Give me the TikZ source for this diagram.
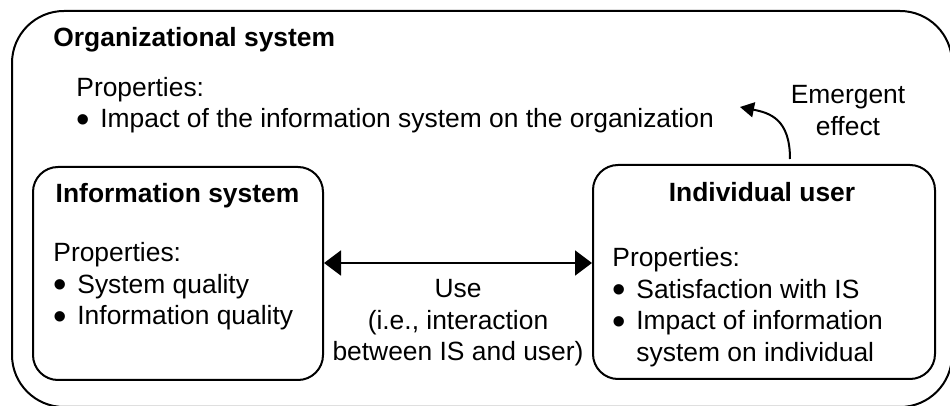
\documentclass[tikz,border=0pt]{standalone}
\usepackage{fontspec}
\setmainfont{Liberation Sans}
\usetikzlibrary{arrows.meta, positioning, calc}

\newcommand{\bul}{\makebox[12pt][l]{\smash{\raisebox{-0.17em}{\scalebox{1.45}{\textbullet}}}}}

\begin{document}
\begin{tikzpicture}[
  x=0.5pt, y=-0.5pt,
  font=\fontsize{13.2}{15.75}\selectfont,
  outer/.style={rectangle, rounded corners=26pt, draw=black, line width=1pt,
                minimum width=470pt, minimum height=198pt},
  sysbox/.style={rectangle, rounded corners=12.5pt, draw=black, fill=white,
                 line width=1pt, minimum height=106.5pt},
  ttl/.style={font=\fontsize{13.2}{15.75}\selectfont\bfseries, inner sep=0pt,
              anchor=base},
  txt/.style={inner sep=0pt, anchor=base west},
  arr/.style={{Triangle[length=8.5pt,width=12.5pt]}-{Triangle[length=8.5pt,width=12.5pt]},
              line width=1pt},
  emarr/.style={-{Triangle[length=7pt,width=7.5pt]}, line width=1pt},
]
\useasboundingbox (0,0) rectangle (950,406);
% organization around everything (cut at the right and bottom edge)
\node (org)      [outer] at (482,209) {};
\node (orgttl)   [ttl, anchor=base west] at (53,46.5) {Organizational system};
\node (orgprops) [txt] at (76,96.5)
  {\begin{tabular}[t]{@{}l@{}}Properties:\\
   \bul Impact of the information system on the organization\end{tabular}};
% the two inner boxes
\node (is)      [sysbox, minimum width=145pt] at (178,273.5) {};
\node (isttl)   [ttl] at (177.5,203) {Information system};
\node (isprops) [txt] at (53,262)
  {\begin{tabular}[t]{@{}l@{}}Properties:\\
   \bul System quality\\
   \bul Information quality\end{tabular}};
\node (iu)      [sysbox, minimum width=171pt, minimum height=107pt] at (764,272) {};
\node (iuttl)   [ttl] at (762,202) {Individual user};
\node (iuprops) [txt] at (612,267)
  {\begin{tabular}[t]{@{}l@{}}Properties:\\
   \bul Satisfaction with IS\\
   \bul Impact of information\\
   \hspace*{12pt}system on individual\end{tabular}};
% labels
\node (uselbl) [txt, anchor=base] at (458,298)
  {\begin{tabular}[t]{@{}c@{}}Use\\(i.e., interaction\\between IS and user)\end{tabular}};
\node (emlbl)  [txt, anchor=base] at (848,104)
  {\begin{tabular}[t]{@{}c@{}}Emergent\\effect\end{tabular}};
% edges
\draw [arr] ($(is.east)+(0,-10.5)$) -- ($(iu.west)+(0,-9)$);
\coordinate (emsrc) at ($(iu.north)+(26,-5)$);
\coordinate (emtip) at (740,107);
\draw [emarr] (emsrc) .. controls +(0,-40) and +(30,6) .. (emtip);
\end{tikzpicture}
\end{document}
